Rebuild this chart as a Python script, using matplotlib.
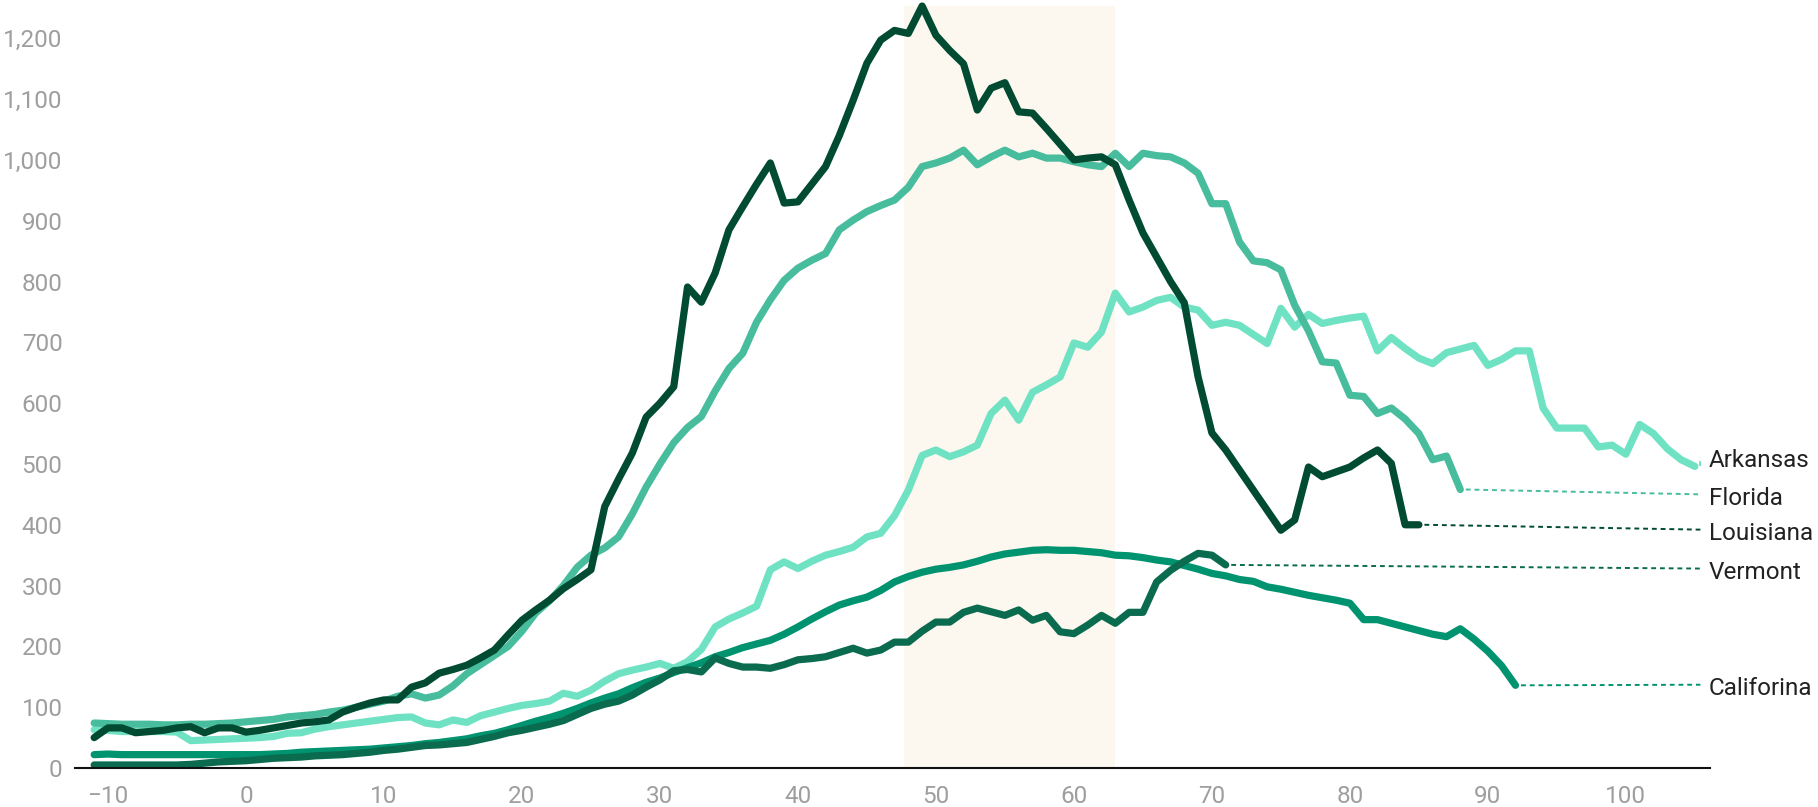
import matplotlib.pyplot as plt
from matplotlib.ticker import FuncFormatter

plt.rcParams['font.family'] = ['Roboto', 'DejaVu Sans']

# -- Dados (dia relativo x valor)
dias_arkansas = list(range(-11, 106))
arkansas = [63, 62, 60, 60, 60, 60, 59, 45, 46, 47,
            48, 49, 50, 52, 57, 58, 64, 68, 71, 74,
            77, 80, 83, 84, 74, 71, 79, 75, 86, 92,
            98, 103, 106, 110, 123, 118, 128, 143, 155, 161,
            166, 172, 164, 175, 195, 232, 245, 255, 266, 326,
            339, 328, 340, 350, 356, 363, 380, 386, 415, 457,
            514, 523, 512, 520, 531, 583, 605, 572, 618, 630,
            643, 699, 692, 717, 781, 750, 758, 769, 774, 758,
            753, 728, 733, 728, 713, 698, 756, 725, 746, 731,
            736, 740, 743, 686, 708, 690, 674, 665, 683, 689,
            695, 662, 672, 686, 686, 592, 559, 559, 559, 528,
            531, 516, 565, 550, 525, 507, 496]

dias_florida = list(range(-11, 89))
florida = [74, 73, 72, 72, 72, 71, 71, 72, 72, 73,
           74, 76, 78, 80, 84, 86, 88, 92, 95, 100,
           105, 110, 118, 122, 115, 120, 135, 155, 170, 185,
           200, 225, 255, 275, 300, 330, 350, 362, 380, 418,
           462, 500, 535, 560, 578, 620, 657, 682, 733, 770,
           802, 822, 835, 846, 885, 901, 915, 925, 934, 955,
           989, 995, 1003, 1016, 992, 1005, 1016, 1005, 1011, 1003,
           1003, 997, 992, 989, 1011, 989, 1011, 1007, 1005, 995,
           978, 928, 928, 865, 834, 831, 819, 761, 719, 668,
           666, 613, 611, 583, 592, 574, 550, 507, 513, 458]

dias_louisiana = list(range(-11, 86))
louisiana = [50, 66, 66, 58, 60, 62, 66, 68, 58, 66,
             66, 59, 62, 66, 70, 74, 76, 79, 92, 100,
             107, 112, 112, 133, 140, 156, 162, 169, 181, 194,
             219, 243, 260, 276, 295, 310, 326, 430, 475, 518,
             577, 600, 627, 791, 766, 814, 885, 923, 960, 995,
             929, 931, 960, 989, 1040, 1098, 1159, 1197, 1213, 1208,
             1253, 1205, 1180, 1158, 1082, 1118, 1127, 1079, 1077, 1052,
             1026, 1000, 1003, 1005, 992, 934, 880, 840, 800, 765,
             643, 551, 523, 490, 457, 424, 391, 408, 495, 479,
             487, 495, 510, 523, 501, 400, 400]

dias_vermont = list(range(-11, 72))
vermont = [5, 5, 5, 5, 5, 5, 5, 6, 8, 10,
           11, 12, 14, 16, 17, 18, 20, 21, 22, 24,
           26, 29, 31, 34, 37, 38, 40, 42, 47, 52,
           58, 62, 67, 72, 78, 88, 98, 105, 110, 120,
           133, 145, 160, 162, 158, 181, 172, 166, 166, 164,
           170, 178, 180, 183, 190, 197, 189, 194, 207, 207,
           225, 240, 240, 256, 263, 257, 251, 260, 243, 251,
           224, 221, 235, 251, 238, 256, 256, 306, 325, 340,
           353, 350, 334]

dias_california = list(range(-11, 93))
california = [22, 23, 22, 22, 22, 22, 22, 22, 22, 22,
              22, 22, 22, 23, 24, 26, 27, 28, 29, 30,
              31, 33, 35, 37, 40, 42, 45, 48, 53, 57,
              63, 70, 77, 83, 90, 98, 107, 115, 122, 132,
              141, 148, 157, 165, 173, 183, 190, 198, 204, 210,
              220, 232, 245, 257, 268, 275, 281, 292, 306, 315,
              322, 327, 330, 334, 340, 347, 352, 355, 358, 359,
              358, 358, 356, 354, 350, 349, 346, 342, 339, 333,
              327, 320, 316, 310, 307, 298, 294, 289, 284, 280,
              276, 271, 244, 244, 238, 232, 226, 220, 216, 229,
              212, 192, 168, 136]

# -- Ordem de desenho (de baixo para cima): nome, x, y, cor, y do rótulo
series = [
    ('Arkansas', dias_arkansas, arkansas, '#70e2c4', 506),
    ('Florida', dias_florida, florida, '#48bd9d', 444),
    ('Califorina', dias_california, california, '#00936f', 131),
    ('Vermont', dias_vermont, vermont, '#0a6b4e', 322),
    ('Louisiana', dias_louisiana, louisiana, '#004b32', 386),
]

fig = plt.figure(figsize=(18.18, 8.07), dpi=100)
ax = fig.add_axes([0.04125, 0.0483, 0.8993, 0.9442])

# -- Faixa destacada
ax.axvspan(47.7, 63.0, color='#fdf8ef', lw=0, zorder=0)

for i, (nome, x, y, cor, y_rot) in enumerate(series):
    ax.plot(x, y, color=cor, lw=5.2, solid_capstyle='round',
            solid_joinstyle='round', clip_on=False, zorder=3 + i)
    # -- linha pontilhada até o rótulo
    ax.plot([x[-1] + 0.4, 105.4], [y[-1], y_rot + 6], color=cor, lw=1.4,
            ls=(0, (2.5, 2)), clip_on=False, zorder=2)
    ax.text(106.0, y_rot, nome, fontsize=17.5, color='#222222',
            ha='left', va='center', clip_on=False)

ax.set_xlim(-12.39, 106.09)
ax.set_ylim(0, 1253)
ax.set_xticks(range(-10, 101, 10))
ax.set_yticks(range(0, 1201, 100))
ax.yaxis.set_major_formatter(FuncFormatter(lambda v, p: f'{int(v):,}'))

for lado in ['top', 'right', 'left']:
    ax.spines[lado].set_visible(False)
ax.spines['bottom'].set_color('#111111')
ax.spines['bottom'].set_linewidth(1.5)
ax.spines['bottom'].set_zorder(10)

ax.tick_params(length=0, labelsize=17.5, labelcolor='#9e9e9e')
ax.tick_params(axis='x', pad=12)
ax.tick_params(axis='y', pad=9)

fig.savefig('out.png', dpi=100)
